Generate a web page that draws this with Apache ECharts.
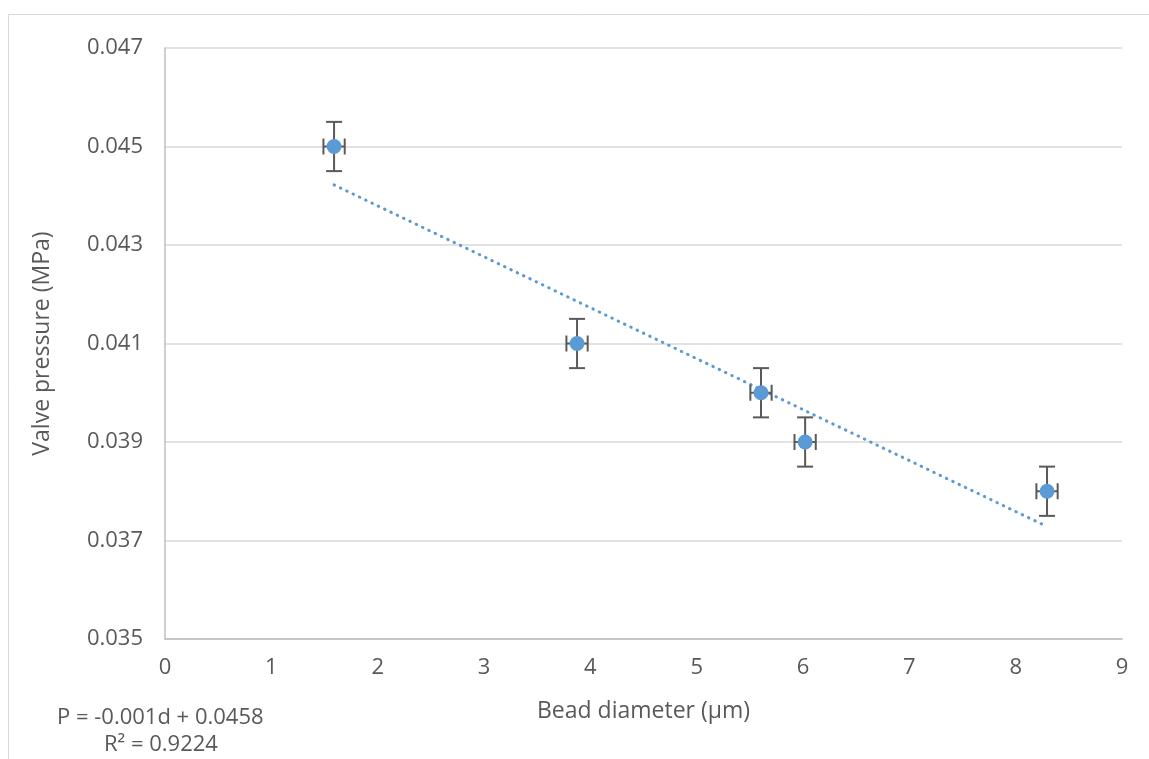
<!DOCTYPE html>
<html>
<head>
<meta charset="utf-8">
<script src="https://cdn.jsdelivr.net/npm/echarts@6/dist/echarts.min.js"></script>
<style>
html,body{margin:0;padding:0;background:#fff;}
#chart{width:1149px;height:759px;}
</style>
</head>
<body>
<div id="chart"></div>
<script>
// Data
const beadDiameter = [1.59, 3.875, 5.605, 6.02, 8.295];
const valvePressure = [0.045, 0.041, 0.040, 0.039, 0.038];
const xError = [0.1, 0.1, 0.1, 0.1, 0.1];
const yError = [0.0005, 0.0005, 0.0005, 0.0005, 0.0005];
const trendX = [1.59, 8.25];
const trendY = [0.04422, 0.03733];
const xTicks = [0, 1, 2, 3, 4, 5, 6, 7, 8, 9];
const yTicks = [0.035, 0.037, 0.039, 0.041, 0.043, 0.045, 0.047];
const equationText = 'P = -0.001d + 0.0458';
const r2Text = 'R² = 0.9224';

const FONT = 'Open Sans';
const TXT = '#595959';

const points = beadDiameter.map((x, i) => [x, valvePressure[i]]);
const errData = beadDiameter.map((x, i) => [x, valvePressure[i], xError[i], yError[i]]);
const trendData = trendX.map((x, i) => [x, trendY[i]]);

const chart = echarts.init(document.getElementById('chart'), null, {renderer: 'canvas'});

function renderErr(params, api) {
  const x = api.value(0), y = api.value(1), ex = api.value(2), ey = api.value(3);
  const top = api.coord([x, y + ey]);
  const bot = api.coord([x, y - ey]);
  const lft = api.coord([x - ex, y]);
  const rgt = api.coord([x + ex, y]);
  const cap = 8;
  const style = {stroke: '#595959', lineWidth: 2, fill: null};
  return {
    type: 'group',
    children: [
      {type: 'line', shape: {x1: top[0], y1: top[1], x2: bot[0], y2: bot[1]}, style},
      {type: 'line', shape: {x1: top[0] - cap, y1: top[1], x2: top[0] + cap, y2: top[1]}, style},
      {type: 'line', shape: {x1: bot[0] - cap, y1: bot[1], x2: bot[0] + cap, y2: bot[1]}, style},
      {type: 'line', shape: {x1: lft[0], y1: lft[1], x2: rgt[0], y2: rgt[1]}, style},
      {type: 'line', shape: {x1: lft[0], y1: lft[1] - cap, x2: lft[0], y2: lft[1] + cap}, style},
      {type: 'line', shape: {x1: rgt[0], y1: rgt[1] - cap, x2: rgt[0], y2: rgt[1] + cap}, style}
    ]
  };
}

chart.setOption({
  animation: false,
  backgroundColor: '#fff',
  textStyle: {fontFamily: FONT},
  grid: {left: 165, right: 27, top: 48, bottom: 120, containLabel: false},
  xAxis: {
    type: 'value',
    min: xTicks[0], max: xTicks[xTicks.length - 1], interval: 1,
    name: 'Bead diameter (µm)',
    nameLocation: 'middle', nameGap: 61,
    nameTextStyle: {color: TXT, fontSize: 23, fontFamily: FONT},
    axisLine: {show: true, lineStyle: {color: '#bfbfbf', width: 1.5}},
    axisTick: {show: false},
    axisLabel: {color: TXT, fontSize: 22, fontFamily: FONT, margin: 18},
    splitLine: {show: false}
  },
  yAxis: {
    type: 'value',
    min: yTicks[0], max: yTicks[yTicks.length - 1], interval: 0.002,
    name: 'Valve pressure (MPa)',
    nameLocation: 'middle', nameGap: 111,
    nameTextStyle: {color: TXT, fontSize: 23, fontFamily: FONT},
    axisLine: {show: true, lineStyle: {color: '#bfbfbf', width: 1.5}},
    axisTick: {show: false},
    axisLabel: {color: TXT, fontSize: 22, fontFamily: FONT, margin: 22,
      formatter: v => v.toFixed(3)},
    splitLine: {show: true, lineStyle: {color: '#d9d9d9', width: 1.5}}
  },
  series: [
    {
      type: 'line',
      data: trendData,
      showSymbol: false,
      symbol: 'none',
      lineStyle: {color: '#5b9bd5', width: 3, type: [0.5, 6.5], cap: 'round'},
      z: 2
    },
    {
      type: 'custom',
      data: errData,
      renderItem: renderErr,
      z: 3
    },
    {
      type: 'scatter',
      data: points,
      symbol: 'circle',
      symbolSize: 15,
      itemStyle: {color: '#5b9bd5', opacity: 1},
      z: 4
    }
  ],
  graphic: [
    {type: 'rect', shape: {x: 8.5, y: 14.5, width: 1300, height: 900},
      style: {fill: null, stroke: '#d9d9d9', lineWidth: 1}, silent: true, z: -1},
    {type: 'text', left: 57, top: 707,
      style: {text: equationText, fill: TXT, font: '22px "Open Sans"'}},
    {type: 'text', left: 104, top: 734,
      style: {text: r2Text, fill: TXT, font: '22px "Open Sans"'}}
  ]
});
</script>
</body>
</html>
